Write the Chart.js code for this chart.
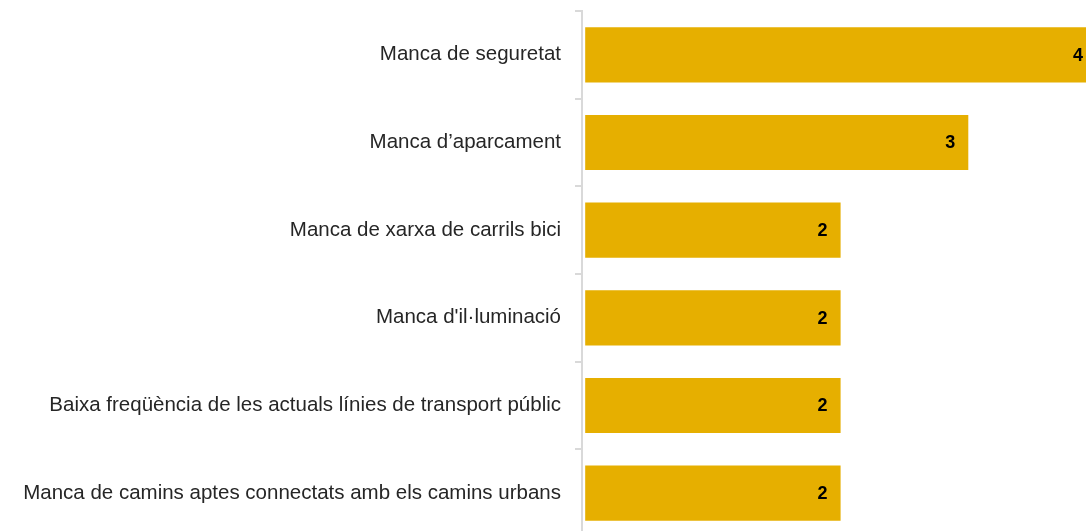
<!DOCTYPE html>
<html>
<head>
<meta charset="utf-8">
<script src="https://cdn.jsdelivr.net/npm/chart.js@4/dist/chart.umd.min.js"></script>
<style>
html,body{margin:0;padding:0;background:#fff;overflow:hidden;}
#wrap{position:relative;width:1096px;height:537px;}
</style>
</head>
<body>
<div id="wrap"><canvas id="c"></canvas></div>
<script>
const categories = [
  "Manca de seguretat",
  "Manca d\u2019aparcament",
  "Manca de xarxa de carrils bici",
  "Manca d'il\u00b7luminaci\u00f3",
  "Baixa freq\u00fc\u00e8ncia de les actuals l\u00EDnies de transport p\u00FAblic",
  "Manca de camins aptes connectats amb els camins urbans"
];
const values = [4, 3, 2, 2, 2, 2];

const FONT = "'Liberation Sans', Arial, sans-serif";
// pick font size so the longest label is about 549px wide
const mctx = document.createElement('canvas').getContext('2d');
let fs = 20;
for (let s = 22; s >= 12; s -= 0.5) {
  mctx.font = s + "px " + FONT;
  const w = Math.max(...categories.map(t => mctx.measureText(t).width));
  if (w <= 550) { fs = s; break; }
}

const labelPlugin = {
  id: 'barLabels',
  afterDatasetsDraw(chart) {
    const ctx = chart.ctx;
    const meta = chart.getDatasetMeta(0);
    ctx.save();
    ctx.font = "bold 18px " + FONT;
    ctx.fillStyle = "#000";
    ctx.textAlign = "right";
    ctx.textBaseline = "middle";
    meta.data.forEach((bar, i) => {
      ctx.fillText(String(values[i]), bar.x - 13, bar.y + 1);
    });
    ctx.restore();
  }
};

new Chart(document.getElementById('c'), {
  type: 'bar',
  data: {
    labels: categories,
    datasets: [{
      data: values,
      backgroundColor: '#E6AF00',
      borderWidth: 0,
      barPercentage: 0.63,
      categoryPercentage: 1.0
    }]
  },
  options: {
    indexAxis: 'y',
    responsive: true,
    maintainAspectRatio: false,
    animation: false,
    layout: { padding: { top: 11, bottom: 0, left: 0, right: 0 } },
    plugins: { legend: { display: false }, tooltip: { enabled: false } },
    scales: {
      x: {
        display: false,
        min: -0.025,
        max: 4
      },
      y: {
        afterFit(scale) {
          scale.width = 582;
          scale.paddingTop = 0;
          scale.paddingBottom = 0;
        },
        grid: {
          offset: true,
          drawOnChartArea: false,
          drawTicks: true,
          tickLength: 7,
          color: '#D9D9D9',
          lineWidth: 2
        },
        border: { display: true, color: '#D9D9D9', width: 2 },
        ticks: {
          padding: 14,
          color: '#262626',
          font: { family: FONT, size: fs }
        }
      }
    }
  },
  plugins: [labelPlugin]
});
</script>
</body>
</html>
